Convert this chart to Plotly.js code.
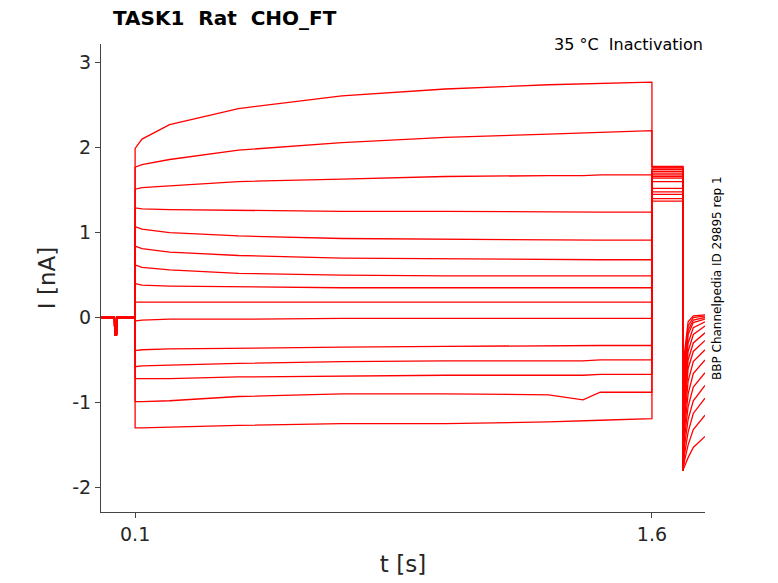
<!DOCTYPE html><html><head><script src="https://cdn.plot.ly/plotly-3.0.1.min.js"></script></head><body style="margin:0">
<div id="g" style="width:778px;height:583px"></div>
<script>
const baseT=[0,0.04,0.041,0.046,0.047,0.1];
const baseV=[0,0,-0.2,-0.2,0,0];
const stepT=[0.1,0.12,0.2,0.4,0.7,1.0,1.3,1.4,1.45,1.6];
const stepV=[
[1.99,2.1,2.27,2.46,2.61,2.69,2.74,2.75,2.76,2.77],
[1.77,1.80,1.86,1.97,2.06,2.12,2.16,2.17,2.18,2.2],
[1.51,1.53,1.55,1.6,1.63,1.66,1.67,1.67,1.68,1.68],
[1.29,1.28,1.27,1.26,1.25,1.25,1.24,1.24,1.24,1.24],
[1.07,1.04,1.0,0.96,0.93,0.92,0.91,0.91,0.91,0.91],
[0.84,0.81,0.77,0.73,0.70,0.69,0.68,0.68,0.68,0.68],
[0.62,0.59,0.56,0.52,0.50,0.49,0.49,0.49,0.49,0.49],
[0.40,0.38,0.37,0.36,0.35,0.35,0.35,0.35,0.35,0.35],
[0.18,0.18,0.18,0.18,0.18,0.18,0.18,0.18,0.18,0.18],
[-0.04,-0.03,-0.02,-0.02,-0.01,-0.01,-0.01,-0.01,-0.01,-0.01],
[-0.39,-0.38,-0.37,-0.36,-0.35,-0.34,-0.33,-0.33,-0.33,-0.33],
[-0.58,-0.57,-0.56,-0.54,-0.52,-0.51,-0.51,-0.51,-0.50,-0.50],
[-0.72,-0.72,-0.72,-0.70,-0.69,-0.68,-0.68,-0.68,-0.67,-0.67],
[-0.99,-0.99,-0.98,-0.93,-0.90,-0.90,-0.91,-0.97,-0.88,-0.88],
[-1.30,-1.30,-1.29,-1.27,-1.25,-1.25,-1.23,-1.22,-1.21,-1.19]];
const tailT=[1.6,1.69];
const tailV=[1.78,1.77,1.76,1.74,1.72,1.70,1.68,1.66,1.64,1.60,1.52,1.48,1.45,1.40,1.37];
const recT=[1.69,1.695,1.705,1.72,1.754];
const recV=[
[-1.8,-0.4,-0.05,0.02,0.03],
[-1.8,-0.5,-0.1,0.0,0.02],
[-1.8,-0.6,-0.15,-0.03,0.0],
[-1.8,-0.7,-0.2,-0.06,-0.02],
[-1.8,-0.8,-0.3,-0.12,-0.05],
[-1.8,-0.9,-0.4,-0.2,-0.1],
[-1.8,-1.0,-0.5,-0.3,-0.18],
[-1.8,-1.1,-0.6,-0.4,-0.27],
[-1.8,-1.2,-0.75,-0.52,-0.38],
[-1.8,-1.3,-0.9,-0.66,-0.5],
[-1.8,-1.4,-1.05,-0.82,-0.65],
[-1.8,-1.5,-1.2,-0.98,-0.8],
[-1.8,-1.6,-1.35,-1.13,-0.95],
[-1.8,-1.68,-1.5,-1.32,-1.15],
[-1.8,-1.75,-1.65,-1.53,-1.4]];
const traces=stepV.map((sv,i)=>({
 x:[...baseT,...stepT,...tailT,...recT],
 y:[...baseV,...sv,tailV[i],tailV[i],...recV[i]],
 mode:'lines',line:{color:'#ff0000',width:1.3},hoverinfo:'skip'}));
const f={family:'DejaVu Sans',color:'#262626'};
Plotly.newPlot('g',traces,{
 width:778,height:583,showlegend:false,paper_bgcolor:'#fff',plot_bgcolor:'#fff',
 margin:{l:101,r:73,t:44,b:71},
 title:{text:'<b>TASK1  Rat  CHO_FT</b>',x:113/778,xanchor:'left',y:1-18/583,yanchor:'middle',font:{...f,size:20,color:'#000'}},
 xaxis:{range:[0.001,1.754],tickvals:[0.1,1.6],ticktext:['0.1','1.6'],ticks:'outside',ticklen:5,showgrid:false,zeroline:false,showline:true,linecolor:'#444',mirror:false,tickfont:{...f,size:19},title:{text:'t [s]',font:{...f,size:23},standoff:12}},
 yaxis:{range:[-2.29,3.22],tickvals:[-2,-1,0,1,2,3],ticktext:['-2','-1','0','1','2','3'],ticks:'outside',ticklen:5,showgrid:false,zeroline:false,showline:true,linecolor:'#444',tickfont:{...f,size:19},title:{text:'I [nA]',font:{...f,size:23},standoff:10}},
 annotations:[
  {text:'35 °C  Inactivation',xref:'paper',yref:'paper',x:1,y:1,xanchor:'right',yanchor:'bottom',yshift:-12,showarrow:false,font:{...f,size:16,color:'#000'}},
  {text:'BBP Channelpedia ID 29895 rep 1',xref:'paper',yref:'paper',x:1,xshift:12,y:0.5,textangle:-90,xanchor:'center',showarrow:false,font:{...f,size:12,color:'#000'}}]
},{displayModeBar:false});
</script></body></html>
